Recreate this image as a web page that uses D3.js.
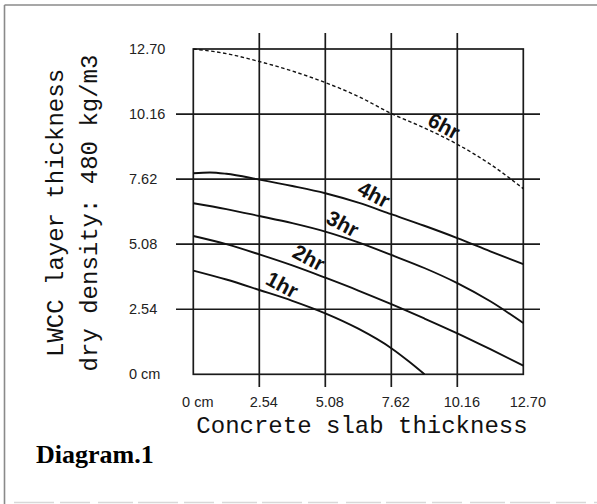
<!DOCTYPE html>
<html>
<head>
<meta charset="utf-8">
<script src="https://cdn.jsdelivr.net/npm/d3@7"></script>
<style>
  html, body { margin: 0; padding: 0; background: #fff; }
  svg { display: block; }
</style>
</head>
<body>
<svg id="chart" width="597" height="504"></svg>
<script>
// ---- data ----
const tickValues = [0, 2.54, 5.08, 7.62, 10.16, 12.70];
const xTickLabels = ["0 cm", "2.54", "5.08", "7.62", "10.16", "12.70"];
const yTickLabels = ["0 cm", "2.54", "5.08", "7.62", "10.16", "12.70"];

const curve6hr = [[0,12.70],[1.27,12.52],[2.54,12.21],[3.81,11.84],[5.08,11.39],[6.35,10.85],[7.62,10.18],[8.89,9.62],[10.16,8.98],[11.43,8.2],[12.70,7.25]];
const curve4hr = [[0,7.85],[0.64,7.88],[1.27,7.83],[2.54,7.6],[3.81,7.35],[5.08,7.07],[6.35,6.7],[7.62,6.25],[8.89,5.8],[10.16,5.32],[11.43,4.8],[12.70,4.3]];
const curve3hr = [[0,6.68],[1.27,6.45],[2.54,6.18],[3.81,5.9],[5.08,5.57],[6.35,5.15],[7.62,4.66],[8.89,4.15],[10.16,3.56],[11.43,2.85],[12.70,2.0]];
const curve2hr = [[0,5.4],[1.27,5.08],[2.54,4.68],[3.81,4.25],[5.08,3.77],[6.35,3.27],[7.62,2.74],[8.89,2.18],[10.16,1.6],[11.43,0.98],[12.70,0.34]];
const curve1hr = [[0,4.05],[1.27,3.7],[2.54,3.29],[3.81,2.87],[5.08,2.38],[6.35,1.78],[7.62,1.02],[8.3,0.5],[8.9,0]];

const seriesNames = ["6hr", "4hr", "3hr", "2hr", "1hr"];
const seriesData = [curve6hr, curve4hr, curve3hr, curve2hr, curve1hr];
const seriesDashed = [true, false, false, false, false];
// label anchor in data units
const labelX = [9.65, 6.95, 5.75, 4.45, 3.42];
const labelY = [9.7, 7.02, 5.88, 4.55, 3.5];

const xTitle = "Concrete slab thickness";
const yTitleLines = ["LWCC layer thickness", "dry density: 480 kg/m3"];
const captionText = "Diagram.1";

// ---- drawing ----
const svg = d3.select("#chart");
const x = d3.scaleLinear().domain([0, 12.70]).range([193.3, 523.3]);
const y = d3.scaleLinear().domain([0, 12.70]).range([374.3, 49]);

// outer frame
svg.append("line").attr("x1", 4.5).attr("x2", 597).attr("y1", 5).attr("y2", 5)
  .attr("stroke", "#8a8a8a").attr("stroke-width", 1.6);
svg.append("line").attr("x1", 4.5).attr("x2", 4.5).attr("y1", 5).attr("y2", 504)
  .attr("stroke", "#8a8a8a").attr("stroke-width", 1.6);
svg.append("line").attr("x1", 14).attr("x2", 597).attr("y1", 502.5).attr("y2", 502.5)
  .attr("stroke", "#d8d8d8").attr("stroke-width", 1.5).attr("stroke-dasharray", "40 6 30 8 35 5");

const gridColor = "#1a1a1a";
const inner = tickValues.slice(1, -1);

// vertical grid lines (extending past box)
svg.append("g").selectAll("line").data(inner).join("line")
  .attr("x1", d => x(d)).attr("x2", d => x(d))
  .attr("y1", 33).attr("y2", 387)
  .attr("stroke", gridColor).attr("stroke-width", 1.7);
// horizontal grid lines
svg.append("g").selectAll("line").data(inner).join("line")
  .attr("y1", d => y(d)).attr("y2", d => y(d))
  .attr("x1", 176).attr("x2", 540)
  .attr("stroke", gridColor).attr("stroke-width", 1.7);
// box
svg.append("rect")
  .attr("x", x(0)).attr("y", y(12.70))
  .attr("width", x(12.70) - x(0)).attr("height", y(0) - y(12.70))
  .attr("fill", "none").attr("stroke", gridColor).attr("stroke-width", 1.7);

// axes tick labels
const xAxis = d3.axisBottom(x).tickValues(tickValues)
  .tickFormat((d, i) => xTickLabels[i]).tickSize(0).tickPadding(0);
const gx = svg.append("g").attr("transform", "translate(4,401.5)").call(xAxis);
gx.attr("font-size", null);
gx.select(".domain").remove();
gx.selectAll("text").attr("font-family", "Liberation Sans, Arial, sans-serif")
  .style("font-size", "14.5px").attr("fill", "#222").attr("dy", "0.35em");

const yAxis = d3.axisLeft(y).tickValues(tickValues)
  .tickFormat((d, i) => yTickLabels[i]).tickSize(0).tickPadding(0);
const gy = svg.append("g").attr("transform", "translate(129,0)").call(yAxis);
gy.attr("font-size", null);
gy.select(".domain").remove();
gy.selectAll("text").attr("font-family", "Liberation Sans, Arial, sans-serif")
  .style("font-size", "14.5px").attr("fill", "#222").attr("text-anchor", "start");

// curves
const line = d3.line().x(d => x(d[0])).y(d => y(d[1])).curve(d3.curveMonotoneX);
svg.append("g").selectAll("path").data(seriesData).join("path")
  .attr("d", line)
  .attr("fill", "none")
  .attr("stroke", "#111")
  .attr("stroke-width", (d, i) => seriesDashed[i] ? 1.4 : 1.9)
  .attr("stroke-dasharray", (d, i) => seriesDashed[i] ? "3.5 2.5" : null);

// curve labels
svg.append("g").selectAll("text").data(seriesNames).join("text")
  .attr("transform", (d, i) => `translate(${x(labelX[i])},${y(labelY[i])}) rotate(28)`)
  .attr("text-anchor", "middle").attr("dy", "0.35em")
  .attr("font-family", "Liberation Sans, Arial, sans-serif")
  .attr("font-weight", "bold").style("font-size", "21px")
  .attr("fill", "#111").text(d => d);

// axis titles
svg.append("text").attr("x", 362).attr("y", 433)
  .attr("text-anchor", "middle")
  .attr("font-family", "Liberation Mono, Courier New, monospace")
  .attr("font-size", 24).attr("fill", "#111").text(xTitle);

svg.append("g").selectAll("text").data(yTitleLines).join("text")
  .attr("transform", (d, i) => `translate(${63 + i * 34},213) rotate(-90)`)
  .attr("text-anchor", "middle")
  .attr("font-family", "Liberation Mono, Courier New, monospace")
  .attr("font-size", 24).attr("fill", "#111").text(d => d);

// caption
svg.append("text").attr("x", 36).attr("y", 463)
  .attr("font-family", "Liberation Serif, Times New Roman, serif")
  .attr("font-weight", "bold").attr("font-size", 26).attr("fill", "#000")
  .text(captionText);
</script>
</body>
</html>
